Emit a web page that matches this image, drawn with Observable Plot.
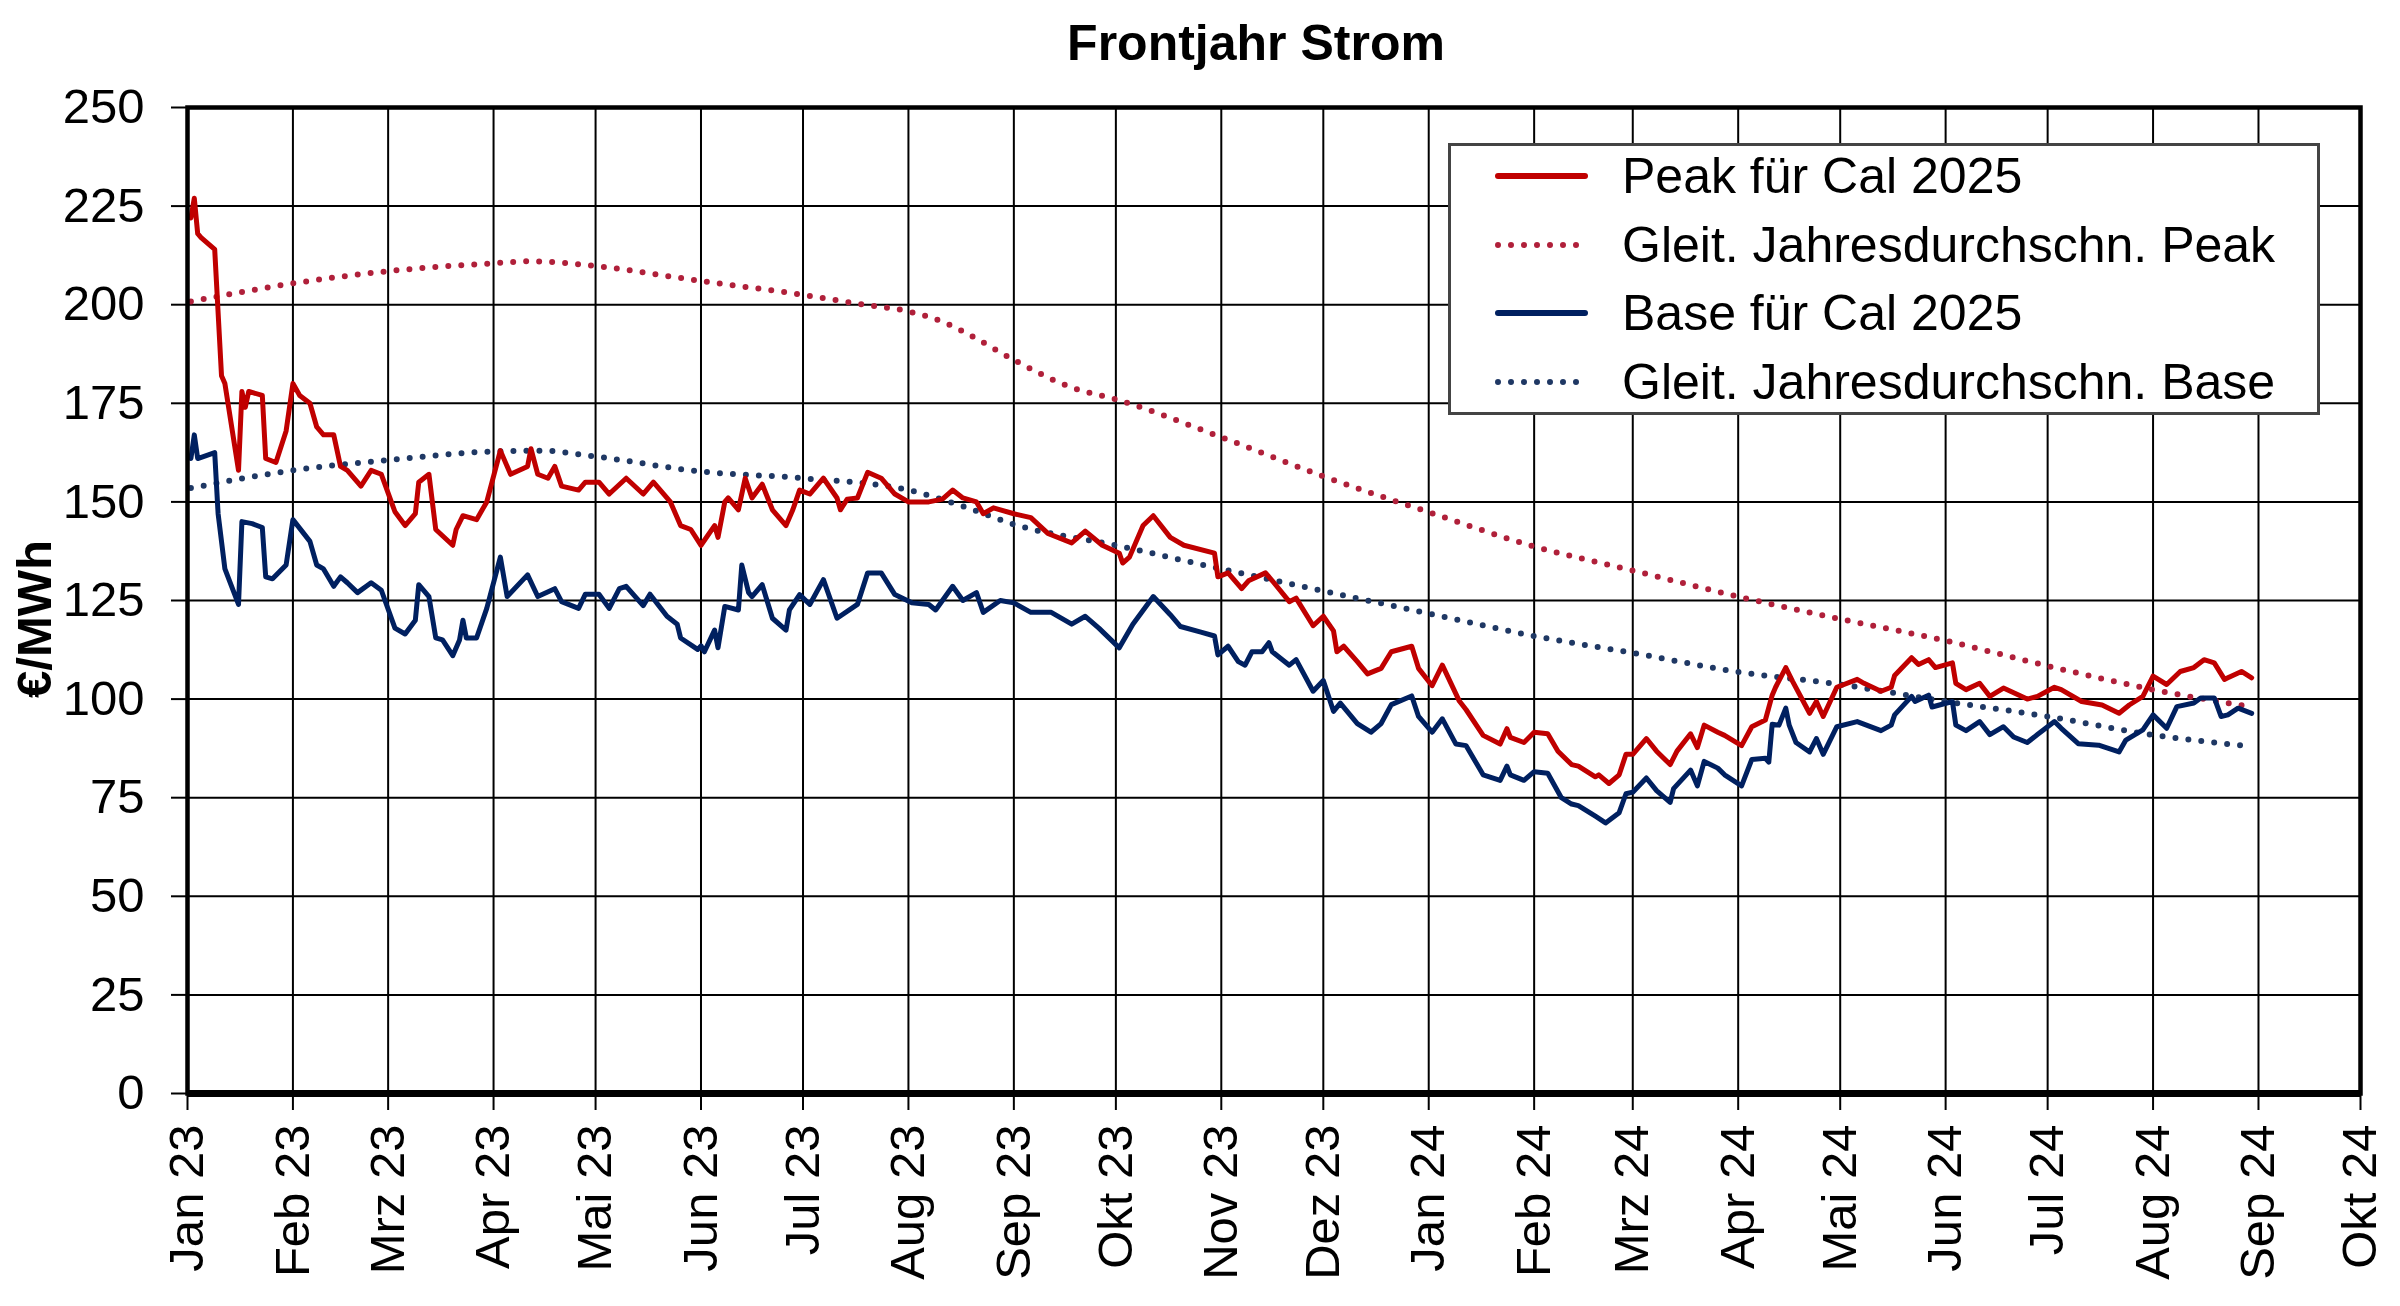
<!DOCTYPE html>
<html>
<head>
<meta charset="utf-8">
<script src="https://cdn.jsdelivr.net/npm/d3@7"></script>
<script src="https://cdn.jsdelivr.net/npm/@observablehq/plot@0.6"></script>
<style>
  html, body { margin: 0; padding: 0; background: white; overflow: hidden; }
  #wrap { position: relative; width: 2400px; height: 1306px; font-family: "Liberation Sans", Arial, sans-serif; color: black; }
  #title { position: absolute; top: 17px; left: 1256px; transform: translateX(-50%); font-size: 50px; font-weight: bold; white-space: nowrap; line-height: 52px; }
  #ylabel { position: absolute; left: 34px; top: 619px; transform: translate(-50%, -50%) rotate(-90deg); font-size: 49px; font-weight: bold; white-space: nowrap; line-height: 52px; }
  #legend { position: absolute; left: 1448px; top: 143px; width: 866px; height: 266px; border: 3px solid #444; background: white; box-sizing: content-box; }
  .row { position: absolute; left: 0; height: 60px; display: flex; align-items: center; font-size: 50px; white-space: nowrap; }
  .row svg { margin-left: 44px; margin-right: 34px; }
</style>
</head>
<body>
<div id="wrap">
  <div id="chart"></div>
  <div id="title"></div>
  <div id="ylabel"></div>
  <div id="legend"></div>
</div>
<script>
// ---------- data ----------
const titleText = "Frontjahr Strom";
const yLabelText = "€/MWh";
const monthLabels = ["Jan","Feb","Mrz","Apr","Mai","Jun","Jul","Aug","Sep","Okt","Nov","Dez"];
const yTicks = [0,25,50,75,100,125,150,175,200,225,250];
const xStart = "2023-01-01";
const xEnd = "2024-10-01";

const seriesNames = ["Peak für Cal 2025","Gleit. Jahresdurchschn. Peak","Base für Cal 2025","Gleit. Jahresdurchschn. Base"];

const peak = [
["2023-01-02",222],["2023-01-03",227],["2023-01-04",218],["2023-01-05",217],["2023-01-09",214],
["2023-01-11",182],["2023-01-12",180],["2023-01-16",158],["2023-01-17",178],["2023-01-18",174],
["2023-01-19",178],["2023-01-23",177],["2023-01-24",161],["2023-01-27",160],["2023-01-30",168],
["2023-02-01",180],["2023-02-03",177],["2023-02-06",175],["2023-02-08",169],["2023-02-10",167],
["2023-02-13",167],["2023-02-15",159],["2023-02-17",158],["2023-02-21",154],["2023-02-24",158],
["2023-02-27",157],["2023-03-03",147.5],["2023-03-06",144],["2023-03-09",147],["2023-03-10",155],
["2023-03-13",157],["2023-03-15",143],["2023-03-20",139],["2023-03-21",143],["2023-03-23",146.5],
["2023-03-27",145.5],["2023-03-30",150],["2023-04-03",163],["2023-04-06",157],["2023-04-11",159],
["2023-04-12",163.5],["2023-04-14",157],["2023-04-17",156],["2023-04-19",159],["2023-04-21",154],
["2023-04-26",153],["2023-04-28",155],["2023-05-02",155],["2023-05-05",152],["2023-05-10",156],
["2023-05-15",152],["2023-05-18",155],["2023-05-23",150],["2023-05-26",144],["2023-05-29",143],
["2023-06-01",139],["2023-06-05",144],["2023-06-06",141],["2023-06-08",150],["2023-06-09",151],
["2023-06-12",148],["2023-06-14",156],["2023-06-16",151],["2023-06-19",154.5],["2023-06-22",148],
["2023-06-26",144],["2023-06-28",148],["2023-06-30",153],["2023-07-03",152],["2023-07-07",156],
["2023-07-11",151],["2023-07-12",148],["2023-07-14",150.7],["2023-07-17",151],["2023-07-20",157.5],
["2023-07-24",156],["2023-07-28",152],["2023-08-01",150],["2023-08-07",150],["2023-08-11",150.7],
["2023-08-14",153],["2023-08-17",151],["2023-08-21",150],["2023-08-23",147],["2023-08-26",148.5],
["2023-09-01",147],["2023-09-06",146],["2023-09-11",142],["2023-09-18",139.6],["2023-09-22",142.6],
["2023-09-27",139],["2023-10-02",137],["2023-10-03",134.5],["2023-10-05",136],["2023-10-09",144],
["2023-10-12",146.5],["2023-10-17",141],["2023-10-21",139],["2023-10-30",137],["2023-10-31",131],
["2023-11-03",132],["2023-11-07",128],["2023-11-09",130],["2023-11-14",132],["2023-11-16",130],
["2023-11-21",124.7],["2023-11-23",125.6],["2023-11-28",118.6],["2023-12-01",121],["2023-12-04",117.3],
["2023-12-05",112],["2023-12-07",113.4],["2023-12-11",109.5],["2023-12-14",106.4],["2023-12-18",107.8],
["2023-12-21",112],["2023-12-27",113.4],["2023-12-29",107.8],["2024-01-02",103.4],["2024-01-05",108.6],
["2024-01-10",99.5],["2024-01-12",97.3],["2024-01-17",90.8],["2024-01-22",88.6],["2024-01-24",92.5],
["2024-01-25",90.3],["2024-01-29",89],["2024-02-01",91.6],["2024-02-05",91.2],["2024-02-08",86.8],
["2024-02-12",83.4],["2024-02-14",83],["2024-02-19",80.3],["2024-02-20",80.8],["2024-02-23",78.6],
["2024-02-26",80.8],["2024-02-28",86],["2024-03-01",86],["2024-03-05",90],["2024-03-08",86.8],
["2024-03-12",83.4],["2024-03-14",86.8],["2024-03-18",91.2],["2024-03-20",87.7],["2024-03-22",93.4],
["2024-03-26",91.6],["2024-03-28",90.8],["2024-04-02",88.2],["2024-04-05",93],["2024-04-09",94.7],
["2024-04-11",101],["2024-04-12",103],["2024-04-15",108],["2024-04-17",104.5],["2024-04-22",96.4],
["2024-04-24",99.4],["2024-04-26",95.6],["2024-04-30",103],["2024-05-06",105],["2024-05-08",104],
["2024-05-13",102],["2024-05-16",103],["2024-05-17",106],["2024-05-22",110.5],["2024-05-24",108.8],
["2024-05-27",110],["2024-05-29",108],["2024-06-03",109.2],["2024-06-04",104],["2024-06-07",102.4],
["2024-06-11",104],["2024-06-14",100.7],["2024-06-18",102.8],["2024-06-25",100],["2024-06-28",100.7],
["2024-07-03",103],["2024-07-05",102.4],["2024-07-11",99.4],["2024-07-17",98.5],["2024-07-22",96.4],
["2024-07-25",98.5],["2024-07-29",100.7],["2024-08-01",105.8],["2024-08-05",103.7],["2024-08-09",107],
["2024-08-13",108],["2024-08-16",110],["2024-08-19",109.2],["2024-08-22",105],["2024-08-23",105.4],
["2024-08-27",107],["2024-08-30",105.4]
];

const base = [
["2023-01-02",161],["2023-01-03",167],["2023-01-04",161],["2023-01-09",162.5],["2023-01-10",147],
["2023-01-12",133],["2023-01-16",124],["2023-01-17",145],["2023-01-20",144.5],["2023-01-23",143.5],
["2023-01-24",131],["2023-01-26",130.5],["2023-01-30",134],["2023-02-01",145.5],["2023-02-06",140],
["2023-02-08",134],["2023-02-10",133],["2023-02-13",128.6],["2023-02-15",131],["2023-02-17",129.5],
["2023-02-20",127],["2023-02-24",129.5],["2023-02-27",127.6],["2023-03-03",118],["2023-03-06",116.5],
["2023-03-09",120],["2023-03-10",129],["2023-03-13",126],["2023-03-15",115.5],["2023-03-17",115],
["2023-03-20",111],["2023-03-22",115],["2023-03-23",120],["2023-03-24",115.5],["2023-03-27",115.5],
["2023-03-30",123],["2023-04-03",136],["2023-04-05",126],["2023-04-11",131.5],["2023-04-14",126],
["2023-04-19",128],["2023-04-21",124.7],["2023-04-26",123],["2023-04-28",126.6],["2023-05-02",126.6],
["2023-05-05",123],["2023-05-08",128],["2023-05-10",128.6],["2023-05-15",123.7],["2023-05-17",126.6],
["2023-05-22",121],["2023-05-25",119],["2023-05-26",115.5],["2023-05-31",112.6],["2023-06-01",113.5],
["2023-06-02",112],["2023-06-05",117.5],["2023-06-06",113],["2023-06-08",123.5],["2023-06-12",122.6],
["2023-06-13",134],["2023-06-15",127],["2023-06-16",126],["2023-06-19",129],["2023-06-22",120.5],
["2023-06-26",117.5],["2023-06-27",122.6],["2023-06-30",126.5],["2023-07-03",124],["2023-07-07",130.3],
["2023-07-11",120.5],["2023-07-17",124],["2023-07-20",132],["2023-07-24",132],["2023-07-28",126.5],
["2023-08-02",124.4],["2023-08-07",124],["2023-08-09",122.6],["2023-08-14",128.6],["2023-08-17",125],
["2023-08-21",127],["2023-08-23",122],["2023-08-28",125],["2023-09-01",124.4],["2023-09-06",122],
["2023-09-12",122],["2023-09-18",119],["2023-09-22",121],["2023-09-26",118],["2023-10-02",113],
["2023-10-06",119],["2023-10-12",126],["2023-10-17",121.4],["2023-10-20",118.4],["2023-10-26",117],
["2023-10-30",116],["2023-10-31",111.2],["2023-11-03",113.4],["2023-11-06",109.5],["2023-11-08",108.6],
["2023-11-10",112],["2023-11-13",112],["2023-11-15",114.3],["2023-11-16",112],["2023-11-21",108.6],
["2023-11-23",110],["2023-11-28",102],["2023-12-01",104.7],["2023-12-04",96.9],["2023-12-06",99],
["2023-12-11",93.8],["2023-12-15",91.6],["2023-12-18",93.8],["2023-12-21",98.6],["2023-12-27",100.8],
["2023-12-29",95.6],["2024-01-02",91.6],["2024-01-05",95],["2024-01-09",88.6],["2024-01-12",88.2],
["2024-01-17",80.8],["2024-01-22",79.4],["2024-01-24",83],["2024-01-25",80.8],["2024-01-29",79.4],
["2024-02-01",81.6],["2024-02-05",81.2],["2024-02-09",75],["2024-02-12",73.4],["2024-02-14",73],
["2024-02-19",70.3],["2024-02-22",68.6],["2024-02-26",71.2],["2024-02-28",76],["2024-03-01",76.4],
["2024-03-05",80],["2024-03-08",76.8],["2024-03-12",73.8],["2024-03-13",77.3],["2024-03-18",82],
["2024-03-20",78],["2024-03-22",84.2],["2024-03-26",82.5],["2024-03-28",80.8],["2024-04-02",78],
["2024-04-05",84.7],["2024-04-09",85],["2024-04-10",84],["2024-04-11",93.6],["2024-04-13",93.4],
["2024-04-15",97.7],["2024-04-16",93.4],["2024-04-18",89],["2024-04-22",86.6],["2024-04-24",90],
["2024-04-26",86],["2024-04-30",93],["2024-05-06",94.3],["2024-05-13",92],["2024-05-16",93.4],
["2024-05-17",96],["2024-05-22",100.7],["2024-05-23",99.4],["2024-05-27",101],["2024-05-28",98],
["2024-06-03",99.4],["2024-06-04",93.4],["2024-06-07",92],["2024-06-11",94.3],["2024-06-14",91],
["2024-06-18",93],["2024-06-21",90.4],["2024-06-25",89],["2024-06-28",91],["2024-07-03",94.3],
["2024-07-05",92.6],["2024-07-10",88.7],["2024-07-16",88.3],["2024-07-22",86.6],["2024-07-24",89.6],
["2024-07-29",92.2],["2024-08-01",96],["2024-08-05",92.6],["2024-08-08",98.1],["2024-08-13",99],
["2024-08-15",100.3],["2024-08-19",100.3],["2024-08-21",95.6],["2024-08-23",96],["2024-08-26",97.7],
["2024-08-30",96.4]
];

const peakAvg = [
["2023-01-02",200.8],["2023-02-01",205.4],["2023-03-01",208.5],["2023-04-01",210.5],["2023-04-12",211],
["2023-05-01",209.8],["2023-06-01",206],["2023-07-01",202.5],["2023-07-19",200],["2023-08-01",198.3],
["2023-08-11",195.7],["2023-08-18",192.8],["2023-09-01",186],["2023-09-18",179],["2023-10-01",176],
["2023-11-01",166.4],["2023-12-01",156.5],["2024-01-01",147.4],["2024-02-01",138.7],["2024-03-01",132.6],
["2024-04-01",126],["2024-05-01",120.3],["2024-06-01",114.8],["2024-07-01",108.4],["2024-08-01",102.4],
["2024-08-30",98]
];

const baseAvg = [
["2023-01-02",153.5],["2023-02-01",158],["2023-03-01",160.6],["2023-04-01",162.8],["2023-04-15",163],
["2023-05-01",161.5],["2023-06-01",157.7],["2023-07-01",156],["2023-08-01",153],["2023-08-18",148.6],
["2023-09-01",144.3],["2023-10-01",139],["2023-11-01",133],["2023-12-01",127.4],["2024-01-01",121.7],
["2024-02-01",116],["2024-03-01",111.7],["2024-04-01",106.9],["2024-05-01",103.7],["2024-06-01",99.4],
["2024-07-01",95.6],["2024-08-01",90.9],["2024-08-30",88]
];

// ---------- styles ----------
const RED = "#C00000", NAVY = "#002060", RED_DOT = "#B0203A", NAVY_DOT = "#1F3864";
const styles = [
  {color: RED, dotted: false},
  {color: RED_DOT, dotted: true},
  {color: NAVY, dotted: false},
  {color: NAVY_DOT, dotted: true}
];

const toRows = arr => arr.map(([d, v]) => ({date: new Date(d + "T00:00:00Z"), value: v}));
const xTicks = d3.utcMonth.range(new Date(xStart + "T00:00:00Z"), new Date(new Date(xEnd + "T00:00:00Z").getTime() + 1));
const fmtX = d => monthLabels[d.getUTCMonth()] + " " + String(d.getUTCFullYear()).slice(2);

const solid = {x: "date", y: "value", strokeWidth: 5, strokeLinejoin: "round", strokeLinecap: "round"};
const dotted = {x: "date", y: "value", strokeWidth: 6, strokeDasharray: "0 13", strokeLinecap: "round", curve: "monotone-x"};

const chart = Plot.plot({
  width: 2400,
  height: 1306,
  marginTop: 107,
  marginLeft: 187,
  marginRight: 40,
  marginBottom: 213,
  style: {fontFamily: "'Liberation Sans', Arial, sans-serif", background: "white", color: "black", overflow: "visible"},
  x: {type: "utc", domain: [new Date(xStart + "T00:00:00Z"), new Date(xEnd + "T00:00:00Z")]},
  y: {domain: [0, 250]},
  marks: [
    Plot.gridX(xTicks, {stroke: "black", strokeOpacity: 1, strokeWidth: 2}),
    Plot.gridY(yTicks, {stroke: "black", strokeOpacity: 1, strokeWidth: 2}),
    Plot.axisY(yTicks, {tickSize: 16, tickPadding: 27, fontSize: 49, strokeWidth: 2, label: null, tickFormat: d => String(d)}),
    Plot.axisX(xTicks, {tickSize: 17, tickPadding: 14, tickRotate: -90, fontSize: 49, strokeWidth: 2, label: null, tickFormat: fmtX}),
    Plot.line(toRows(peakAvg), {...dotted, stroke: RED_DOT}),
    Plot.line(toRows(baseAvg), {...dotted, stroke: NAVY_DOT}),
    Plot.line(toRows(base), {...solid, stroke: NAVY}),
    Plot.line(toRows(peak), {...solid, stroke: RED}),
    Plot.frame({stroke: "black", strokeWidth: 4.5}),
    Plot.ruleY([0], {stroke: "black", strokeWidth: 7})
  ]
});
document.getElementById("chart").appendChild(chart);

document.getElementById("title").textContent = titleText;
document.getElementById("ylabel").textContent = yLabelText;

// legend
const legend = document.getElementById("legend");
seriesNames.forEach((name, i) => {
  const row = document.createElement("div");
  row.className = "row";
  row.style.top = (0 + i * 68.5) + "px";
  const s = styles[i];
  const dash = s.dotted ? 'stroke-dasharray="0 13" stroke-width="6"' : 'stroke-width="6"';
  row.innerHTML = `<svg width="93" height="20"><line x1="3" y1="10" x2="90" y2="10" stroke="${s.color}" stroke-linecap="round" ${dash}/></svg><span></span>`;
  row.querySelector("span").textContent = name;
  legend.appendChild(row);
});
</script>
</body>
</html>
